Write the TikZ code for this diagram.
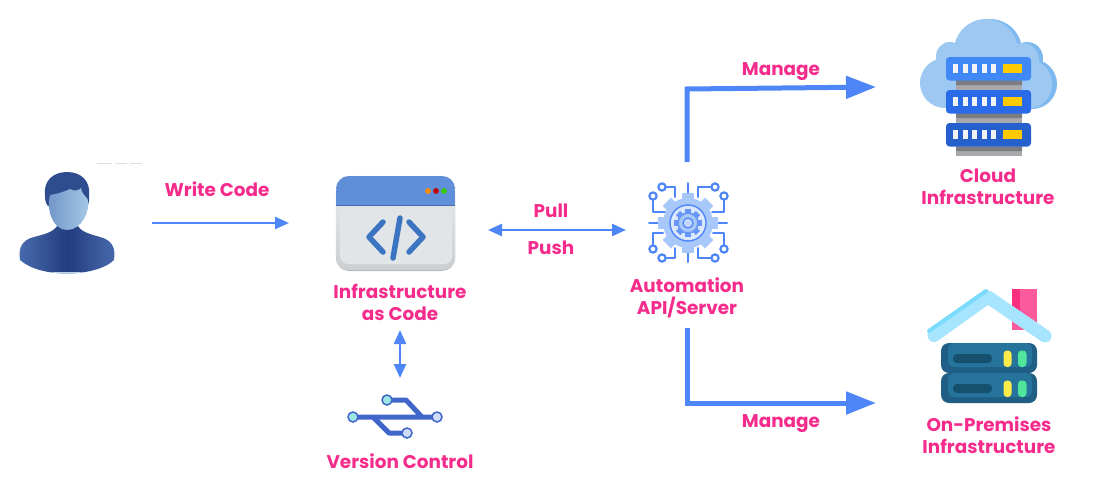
\documentclass[tikz,border=0pt]{standalone}
\usepackage{fontspec}
\setmainfont{Poppins}
\usetikzlibrary{arrows.meta}
\definecolor{pinkt}{HTML}{F52C8C}
\definecolor{arrowb}{HTML}{4F86F7}
\definecolor{gearf}{HTML}{A9C8FA}
\definecolor{gearl}{HTML}{DCE8FD}
\definecolor{usbb}{HTML}{3F66C8}
\definecolor{person1}{HTML}{4A6FB0}
\definecolor{person2}{HTML}{243C80}
\definecolor{personl}{HTML}{BBD3EC}
\definecolor{personh}{HTML}{2F4C8F}
\definecolor{face1}{HTML}{6F94C8}
\definecolor{face2}{HTML}{A8CBE6}
\definecolor{winbody}{HTML}{DDE0E4}
\definecolor{winhead}{HTML}{5F8FD8}
\definecolor{codeb}{HTML}{3B74C0}
\definecolor{cloudl}{HTML}{9CC8F2}
\definecolor{cloudd}{HTML}{7DB8EE}
\definecolor{rackg}{HTML}{A8A9AD}
\definecolor{rackd}{HTML}{7C7D82}
\definecolor{rack1}{HTML}{3F88F5}
\definecolor{rack2}{HTML}{2A6BEA}
\definecolor{rack3}{HTML}{2560CC}
\definecolor{rackyellow}{HTML}{FFCB00}
\definecolor{chim}{HTML}{FB5A9C}
\definecolor{chimd}{HTML}{F92F80}
\definecolor{roofl}{HTML}{A6E5FD}
\definecolor{roofd}{HTML}{7ADBFD}
\definecolor{servd}{HTML}{1F5F86}
\definecolor{servm}{HTML}{26739C}
\definecolor{servs}{HTML}{15506F}
\definecolor{servy}{HTML}{FDEB4C}
\definecolor{servg}{HTML}{4FE59B}
\definecolor{cirt}{HTML}{9CE6E6}
\definecolor{cirb}{HTML}{CFDDFB}
\tikzset{
  lbl/.style={text=pinkt,font=\fontsize{18.4}{22}\selectfont\bfseries,align=center,inner sep=0pt,anchor=center},
  thin arrow/.style={draw=arrowb,line width=2.4pt,-{Triangle[length=14pt,width=12pt]}},
  thin both/.style={draw=arrowb,line width=2.4pt,{Triangle[length=14pt,width=12pt]}-{Triangle[length=14pt,width=12pt]}},
  thick arrow/.style={draw=arrowb,line width=5pt,-{Triangle[length=30pt,width=22pt]}},
  wire/.style={draw=arrowb,line width=2pt,line join=round,line cap=round},
  pad/.style={draw=arrowb,fill=white,line width=2.2pt},
  usbline/.style={draw=usbb,line width=5pt,line join=round},
  rack/.style={rounded corners=3.5pt},
}
\begin{document}
\begin{tikzpicture}[x=1pt,y=-1pt]
\useasboundingbox (0,0) rectangle (1106,490);
\fill[white] (0,0) rectangle (1106,490);

% faint marks above the person
\draw[black!12,line width=.7pt] (97,163) -- (112,163) (115,163) -- (127,163) (130,163) -- (142,163);

% person
\begin{scope}
\clip (20,260) .. controls (18,248) and (22,240) .. (34,237) .. controls (45,234) and (55,232) .. (58,224)
  -- (77,224) .. controls (80,232) and (90,234) .. (100,237) .. controls (112,240) and (116,248) .. (114,260)
  .. controls (105,269) and (85,273.5) .. (67,273.5) .. controls (48,273.5) and (30,269) .. (20,260) -- cycle;
\shade[left color=person1,right color=person1,middle color=person2] (15,222) rectangle (120,275);
\fill[personl] (20,271.5) rectangle (114,275);
\end{scope}
\fill[personh] (45,196) .. controls (43,181) and (53,172) .. (67,172) .. controls (81,172) and (91,181) .. (89,196)
  .. controls (89.5,200) and (89,204) .. (87,206) -- (48,206) .. controls (46,204) and (45,200) .. (45,196) -- cycle;
\shade[left color=face1,right color=face2]
  (50,195) .. controls (56,194) and (64,192) .. (70,189) .. controls (74,192) and (80,190) .. (81,188)
  .. controls (81,192) and (85,196) .. (87.5,199) .. controls (91,210) and (82,230) .. (67,230)
  .. controls (53,230) and (46,210) .. (50,195) -- cycle;

% infrastructure as code window
\node[minimum width=119pt,minimum height=94pt,inner sep=0pt] (iac) at (395.5,223) {};
\fill[black!28,rounded corners=13pt] (336,180) rectangle (455,271);
\shade[top color=winbody!60!white,bottom color=winbody!92!black,rounded corners=13pt] (iac.south west) rectangle (iac.north east);
\fill[white!15!winbody,rounded corners=8pt] (340,208) rectangle (452,264);
\fill[winhead,rounded corners=13pt] (336,176) rectangle (455,200);
\fill[winhead] (336,190) rectangle (455,205);
\fill[winhead!75!black] (336,204.5) rectangle (455,205.5);
\fill[orange!90!yellow] (428,191) circle (2.9pt);
\fill[red!75!black] (436,191) circle (2.9pt);
\fill[green!60!olive] (444,191) circle (2.9pt);
\draw[draw=codeb,line width=5.5pt,line cap=round,line join=round]
  (383,222) -- (369,237) -- (383,252) (400,218) -- (393,258) (409,222) -- (423,237) -- (409,252);

% automation gear
\coordinate (gear) at (688,223);
\draw[wire] (688,183) -- (688,195) (688,252) -- (688,262) (649,223) -- (662,223) (715,223) -- (727,223);
\draw[wire] (662,187) -- (675,187) -- (675,197) (653,196) -- (653,212) -- (665,212);
\draw[wire] (715,187) -- (698,187) -- (698,197) (724,196) -- (724,212) -- (712,212);
\draw[wire] (653,249) -- (653,233) -- (663,233) (662,258) -- (675,258) -- (675,248);
\draw[wire] (724,249) -- (724,233) -- (713,233) (715,258) -- (698,258) -- (698,248);
\foreach \p in {(662,187),(653,196),(715,187),(724,196),(653,249),(662,258),(724,249),(715,258)}
  \draw[pad] \p circle (3.6pt);
\foreach \a in {0,45,...,315}
  \fill[gearf,rotate around={\a:(gear)}] (682,193) rectangle (694,204);
\fill[gearf] (gear) circle (25pt);
\fill[gearl,draw=arrowb,line width=1.4pt] (gear) circle (18pt);
\foreach \a in {0,45,...,315}
  \fill[arrowb!75!gearf,rotate around={\a:(gear)}] (685,209) rectangle (691,215);
\fill[gearf,draw=arrowb!75!gearf,line width=1.6pt] (gear) circle (10pt);
\fill[gearf!70!white,draw=arrowb,line width=1.2pt] (gear) circle (5pt);

% cloud
\fill[cloudd] (990,51) circle (32pt) (1032,84) circle (25pt) (1027,58) circle (16pt);
\fill[cloudl] (986,51) circle (32pt) (945,83) circle (25pt) (1027,84) circle (25pt)
  (950,56) circle (14pt) (1022,60) circle (17pt) (945,70) rectangle (1025,108);
% cloud racks
\fill[rackg] (956,75) rectangle (1022,156);
\fill[rackd] (956,80) rectangle (1022,85) (956,113) rectangle (1022,118) (956,147) rectangle (1022,151);
\foreach \y/\c in {57/rack1,90/rack2,123/rack3}{
  \fill[\c,rack] (946,\y) rectangle (1031,\y+23.5);
  \foreach \x in {953,963,972,982,991}
    \fill[winbody!40!white] (\x,\y+6.5) rectangle (\x+5,\y+16);
  \fill[rackyellow] (1003,\y+6.5) rectangle (1022,\y+16);
}

% on-premises house
\fill[chim] (1012,289) rectangle (1037,330);
\fill[chimd] (1012,289) rectangle (1020,314);
\draw[draw=roofl,line width=13pt,line cap=round,line join=round] (934,335.5) -- (988,297) -- (1045,336);
\draw[draw=roofd,line width=4pt,line cap=round] (929,331) -- (986,291);
\foreach \y in {343,373}{
  \fill[servd,rounded corners=8pt] (941,\y) rectangle (1037,\y+30);
  \fill[servm,rounded corners=6pt] (948,\y) rectangle (1032,\y+24);
  \fill[servs,rounded corners=4pt] (953,\y+11) rectangle (992,\y+20);
  \fill[servy,rounded corners=3.5pt] (1003.5,\y+7.5) rectangle (1011.5,\y+24);
  \fill[servg,rounded corners=3.5pt] (1018,\y+7.5) rectangle (1026.5,\y+24);
}

% version control
\node[minimum width=90pt,minimum height=44pt,inner sep=0pt] (vc) at (395,417) {};
\draw[usbline] (353,417) -- (437,417) (387,400) -- (406,400) -- (422,417)
  (373,417) -- (389,433) -- (407,433);
\draw[fill=cirt,draw=usbb,line width=1.5pt] (353,417) circle (5pt) (387,400) circle (5pt);
\draw[fill=cirb,draw=usbb,line width=1.5pt] (437,417) circle (5pt) (407,433) circle (5pt);

% labels
\node[lbl] (lwrite) at (217,189.5) {Write Code};
\node[lbl] (lpull) at (551,210.5) {Pull};
\node[lbl] (lpush) at (551,247.5) {Push};
\node[lbl] (liac) at (400,302.5) {Infrastructure\\as Code};
\node[lbl] (lvc) at (400,461.5) {Version Control};
\node[lbl] (lauto) at (687,297.5) {Automation\\API/Server};
\node[lbl] (lm1) at (781,71.5) {Manage};
\node[lbl] (lm2) at (781,423.5) {Manage};
\node[lbl] (lcloud) at (988,186.5) {Cloud\\Infrastructure};
\node[lbl] (lprem) at (989,435.5) {On-Premises\\Infrastructure};

% connector ends
\coordinate (devout) at (152,223);
\coordinate (iacin) at (289,223);
\coordinate (iacout) at (488,230);
\coordinate (autoin) at (626,230);
\coordinate (iacdown) at (400,330);
\coordinate (vcup) at (400,378);
\coordinate (autoup) at (687,162);
\coordinate (autobend1) at (687,89);
\coordinate (cloudin) at (876,87);
\coordinate (autodown) at (687,328);
\coordinate (autobend2) at (687,403);
\coordinate (premin) at (876,403);

\draw[thin arrow] (devout) -- (iacin);
\draw[thin both] (iacout) -- (autoin);
\draw[thin both] (iacdown) -- (vcup);
\draw[thick arrow] (autoup) -- (autobend1) -- (cloudin);
\draw[thick arrow] (autodown) -- (autobend2) -- (premin);
\end{tikzpicture}
\end{document}
